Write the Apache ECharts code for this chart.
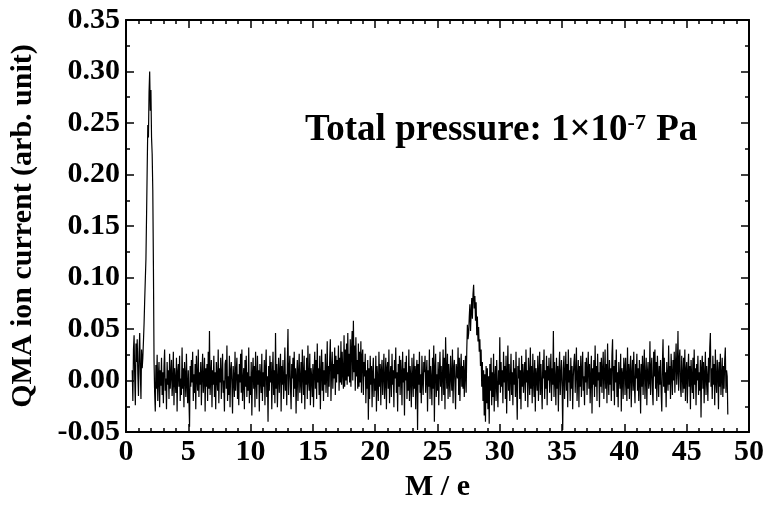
<!DOCTYPE html>
<html><head><meta charset="utf-8">
<script src="https://cdn.jsdelivr.net/npm/echarts/dist/echarts.min.js"></script>
<style>html,body{margin:0;padding:0;background:#fff}#c{width:767px;height:507px}</style>
</head><body><div id="c"></div>
<script>
// M/e sampling grid of the scan
const massStart = 0.5;
const massStep = 0.05;
// QMA ion current, in units of 0.001 (arb. unit) (one row per unit of M/e)
const ionCurrentMilli = [
  10, -20, 30, 44, 2, -24, 36, 18, 40, 6,
  -15, 28, 46, 8, -18, 30, 12, 22, 38, 55, 78, 98, 118, 160, 205, 248, 236, 280, 300, 262,
  282, 236, 220, 185, 112, 20, -12, -30, 15, -8, 25, -20, 4, 18, -26, 10, -5, 22, -14, 8,
  -22, 14, 30, -10, 2, -28, 18, -4, 10, -18, 26, -8, 6, 20, -15, -2, 28, -24, 12, 0,
  -12, 22, -30, 8, 16, -6, 24, -20, 2, -14, 32, -8, 12, -26, 18, 4, -16, 26, -4, -22,
  10, -18, -45, 14, -6, 20, -2, 28, -20, 6, -12, 16, -28, 24, 2, -10, 30, -16, 8, -4,
  18, -24, 6, 26, -12, 0, 22, -30, 12, -6, 16, -20, 28, -8, 48, -14, 4, 20, -26, 10,
  -4, 24, -16, 8, -28, 18, 2, -10, 30, -22, 12, -2, 22, -18, 6, 26, -12, 0, -30, 16,
  20, -8, 34, -20, 4, -14, 24, -26, 10, 18, -4, -32, 14, 2, -16, 28, -10, 8, 22, -18,
  6, -24, 16, -2, 26, -12, 30, -20, 0, 12, -28, 20, -6, 24, -16, 8, -10, 32, -22, 4,
  -14, 18, -34, 6, 22, -8, 14, -26, 28, 0, -18, 24, -4, 10, -30, 16, 2, -12, 26, -20,
  8, -6, 20, -24, 12, 30, -16, 4, -40, 14, -10, 24, -2, 18, -28, 6, 28, -14, 10, -22,
  46, -8, 16, -26, 2, 22, -12, 8, 26, -30, 14, -4, 20, -18, 0, 32, -10, 6, -24, 18,
  50, -14, 10, 24, -6, -28, 16, 2, 22, -16, 28, -8, 12, -32, 4, 20, -20, 8, 26, -12,
  -2, 18, -22, 30, 6, -14, 24, -28, 10, -4, 22, -18, 34, 0, -10, 26, -24, 12, 4, -16,
  16, -26, 8, 28, -8, 20, -18, 36, -2, 12, -14, 24, -28, 6, 30, -10, 18, -20, 10, -4,
  26, -12, 4, 38, -16, 14, -6, 22, 40, -20, 10, 28, -8, 16, 2, 32, -14, 24, -2, 20,
  6, 34, -10, 22, -2, 38, -4, 28, 6, -8, 44, -6, 30, 0, 36, -4, 46, 4, 26, -2,
  40, -6, 30, 48, 0, 58, 8, 34, -10, 42, 4, 20, -8, 36, -6, 28, -2, 38, -12, 24,
  30, -14, 18, 4, 26, -22, 10, -8, 20, -38, 12, -18, 24, -4, 14, -26, 8, 22, -16, 2,
  -10, 24, -30, 14, 2, -20, 28, -6, 16, -24, 10, 20, -14, 6, 26, -18, 0, 22, -28, 12,
  18, -8, 30, -22, 4, 14, -16, 26, -4, 10, -26, 20, 2, 32, -12, 8, -30, 16, -6, 24,
  -14, 20, 6, -24, 28, -2, 12, -34, 18, 0, 24, -18, 8, -10, 30, -20, 14, 4, -26, 22,
  2, -16, 26, -8, 14, -28, 10, 20, -48, 16, -4, 28, -12, 6, -22, 24, 0, -14, 18, 8,
  24, -12, 4, 20, -30, 10, -6, 30, -18, 14, 2, -24, 22, -8, 34, -40, 12, 26, -16, 6,
  -10, 18, -24, 8, 28, -6, 14, -20, 4, 30, -14, 22, -28, 42, 10, -8, 26, -18, 16, 0,
  -16, 24, 4, -10, 30, -22, 12, 20, -4, -28, 16, 8, 2, 32, -14, 22, -20, 10, 26, -6,
  14, -8, 20, -16, 6, 24, -12, 30, 54, 40, 46, 62, 74, 48, 66, 80, 60, 84, 93, 70,
  82, 58, 76, 44, 62, 38, 52, 28, 40, 14, 30, -6, 18, -20, 10, -34, 6, -40, 14, -22,
  12, -28, 4, -42, 16, -10, 22, -24, 8, -16, 26, -30, 2, 14, -20, 20, -8, -26, 10, -4,
  42, -12, 18, -6, 10, -22, 28, -2, 14, -18, 24, -32, 6, 34, -10, 16, -20, 2, 26, -14,
  8, -24, 20, -4, 12, -16, 28, -8, -38, 14, 2, 22, -18, 10, -28, 24, -6, 16, -12, 4,
  18, -20, 30, -2, 10, -26, 22, 6, -14, 32, -8, 14, -22, 26, 0, -16, 20, -30, 12, 4,
  -10, 24, -20, 8, 28, -14, 16, -4, -28, 20, 2, 30, -18, 10, -8, 24, -24, 14, 0, 22,
  -12, 6, 26, -20, 12, -4, 48, -16, 18, 2, -24, 22, -8, 14, -30, 10, 28, -14, 4, 20,
  -6, -48, 12, 24, -18, 6, 28, -10, 16, -26, 30, -2, 10, -20, 22, -8, 14, -28, 4, 18,
  26, -12, 8, 32, -20, 2, 20, -26, 14, -6, 24, -16, 10, 28, -10, 4, -24, 18, -2, 22,
  -14, 10, 28, -8, 16, -22, 4, 24, -32, 12, -4, 20, -16, 34, -6, 14, -20, 26, 0, 8,
  -26, 18, -6, 22, -12, 10, 28, -18, 4, 30, -8, 16, -22, 36, 2, -14, 20, -4, 12, -20,
  24, 40, -10, 14, -24, 20, -2, 30, -16, 8, -26, 18, 2, -8, 26, -30, 12, 6, -18, 22,
  14, -14, 22, 0, -20, 32, -8, 16, -18, 10, 24, -26, 6, 20, -10, 28, -4, -22, 16, 2,
  26, -10, 12, -20, 20, 4, -32, 16, -6, 24, -14, 10, 30, -18, 2, 22, -24, 8, 18, -8,
  -2, 38, -14, 12, 22, -10, -24, 28, 4, 30, -8, 18, -20, 24, 6, -16, 14, -4, 20, -12,
  -30, 16, 40, -6, 22, -12, 8, -26, 18, 2, -10, 34, -4, 14, -18, 26, 6, -14, 20, 0,
  28, -12, 16, 36, -4, 10, 48, -10, 20, 30, -6, -16, 24, 4, -12, 22, -8, 30, -20, 10,
  18, -22, 8, 26, -6, 14, -28, 20, 2, -12, 22, -18, 30, -4, 12, -24, 16, 0, 24, -14,
  8, -10, 20, -36, 12, 24, -8, 18, -22, 6, 28, -14, 14, 2, -20, 22, -2, 32, 46, -6,
  12, -18, 24, -4, 16, -24, 30, 0, -12, 20, 8, -28, 18, -6, 26, -14, 4, 22, -16, 14,
  -8, 20, 32, -12, 10, 4, -33
];
const xAxisTitle = 'M / e';
const yAxisTitle = 'QMA ion current (arb. unit)';

const seriesData = ionCurrentMilli.map((v, i) => [
  +(massStart + i * massStep).toFixed(2), v / 1000
]);

const FONT = '"Liberation Serif", "Times New Roman", serif';
const labelStyle = { fontFamily: FONT, fontWeight: 'bold', fontSize: 30, color: '#000' };
const lineStyle = { color: '#000', width: 2 };

function xAx(pos, showLabel) {
  return {
    type: 'value', position: pos, min: 0, max: 50, interval: 5,
    axisLine: { show: true, onZero: false, lineStyle },
    axisTick: { show: true, inside: true, length: 8, lineStyle: { color: '#000', width: 1.5 } },
    minorTick: { show: true, splitNumber: 5, length: 4, lineStyle: { color: '#000', width: 1.5 } },
    splitLine: { show: false },
    axisLabel: showLabel ? Object.assign({ margin: 5 }, labelStyle) : { show: false },
    name: showLabel ? xAxisTitle : '',
    nameLocation: 'middle', nameGap: 35,
    nameTextStyle: labelStyle
  };
}
function yAx(pos, showLabel) {
  return {
    type: 'value', position: pos, min: -0.05, max: 0.35, interval: 0.05,
    axisLine: { show: true, onZero: false, lineStyle },
    axisTick: { show: true, inside: true, length: 8, lineStyle: { color: '#000', width: 1.5 } },
    minorTick: { show: true, splitNumber: 2, length: 4, lineStyle: { color: '#000', width: 1.5 } },
    splitLine: { show: false },
    axisLabel: showLabel ? Object.assign({ margin: 6, formatter: v => v.toFixed(2) }, labelStyle) : { show: false },
    name: showLabel ? yAxisTitle : '',
    nameLocation: 'middle', nameGap: 88, nameRotate: 90,
    nameTextStyle: Object.assign({}, labelStyle, { fontSize: 30 })
  };
}

const chart = echarts.init(document.getElementById('c'), null, { renderer: 'canvas' });
chart.setOption({
  animation: false,
  backgroundColor: '#fff',
  grid: { left: 123, right: 13, top: 20, bottom: 75, containLabel: false },
  xAxis: [xAx('bottom', true), xAx('top', false)],
  yAxis: [yAx('left', true), yAx('right', false)],
  series: [{
    type: 'line', data: seriesData, xAxisIndex: 0, yAxisIndex: 0,
    showSymbol: false, symbol: 'none', sampling: null,
    lineStyle: { color: '#000', width: 1.2 }
  }],
  graphic: [{
    type: 'text', left: 305, top: 110,
    style: {
      text: '{a|Total pressure: 1×10}{s|-7}{a| Pa}',
      rich: {
        a: { fontFamily: FONT, fontWeight: 'bold', fontSize: 37, color: '#000', lineHeight: 40 },
        s: { fontFamily: FONT, fontWeight: 'bold', fontSize: 22, color: '#000', lineHeight: 40, verticalAlign: 'top', padding: [2, 1, 0, 0] }
      }
    }
  }]
});
</script></body></html>
